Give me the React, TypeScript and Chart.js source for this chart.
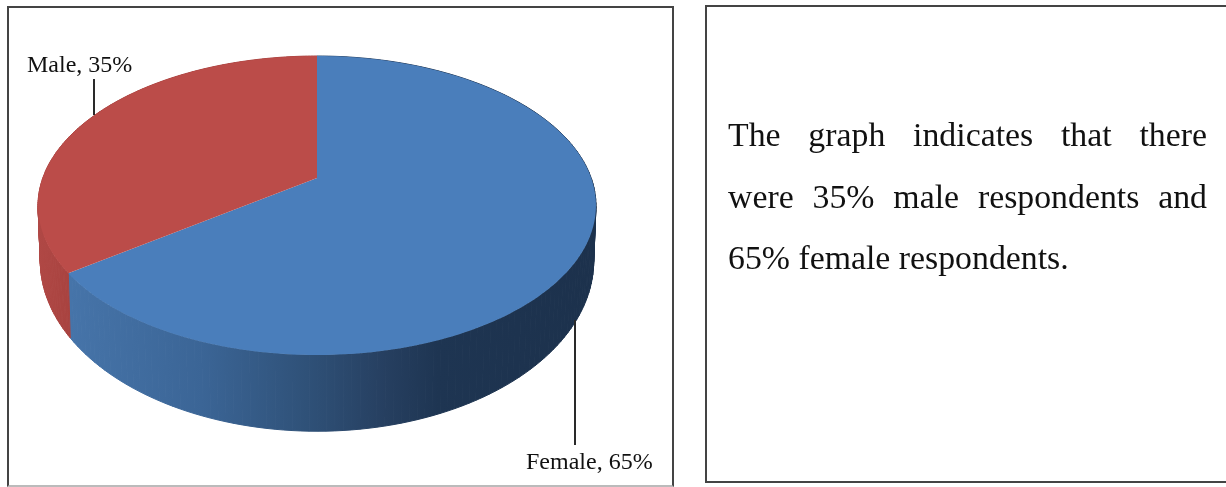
import React, { useEffect, useRef } from "react";
import { Chart, registerables } from "chart.js";

Chart.register(...registerables);

const categories = ["Female", "Male"];
const shares = [65, 35];
const faceColors = ["#4a7ebb", "#bb4c49"];
const sideStops = [
  [[0, "#4674a9"], [0.25, "#3b6596"], [0.45, "#2f5178"], [0.6, "#263f60"], [0.7, "#1e3552"], [1, "#1c314c"]],
  [[0, "#b04845"], [1, "#a8423f"]],
];
const labelText = ["Female, 65%", "Male, 35%"];
const labelPos = [[526, 469], [27, 72]];
const leaders = [[575, 320, 575, 445], [94, 79, 94, 115]];
const paragraphLines = ["The graph indicates that there", "were 35% male respondents and", "65% female respondents."];

const K = -0.184;
const TOP = { c: 274.2, a: 111.7, b: 178 };
const BOT = { c: 272, a: 122.5, b: 229.4 };
const CX = 317;

function project(p: { c: number; a: number; b: number }, angle: number) {
  const X = Math.cos(angle);
  const Y = Math.sin(angle);
  const w = 1 + K * Y;
  return [CX + (p.c * X) / w, (p.a * Y + p.b) / w];
}

const pie3d = {
  id: "pie3d",
  beforeDatasetsDraw(chart: any) {
    const ctx = chart.ctx;
    const arcs = chart.getDatasetMeta(0).data;
    ctx.save();
    arcs.forEach((arc: any, i: number) => {
      const grad = ctx.createLinearGradient(i === 0 ? 70 : 38, 0, i === 0 ? 596 : 72, 0);
      sideStops[i].forEach((s: any) => grad.addColorStop(s[0], s[1]));
      ctx.fillStyle = grad;
      ctx.strokeStyle = grad;
      ctx.lineWidth = 1;
      const n = 160;
      for (let j = 0; j < n; j++) {
        const a0 = arc.startAngle + ((arc.endAngle - arc.startAngle) * j) / n;
        const a1 = arc.startAngle + ((arc.endAngle - arc.startAngle) * (j + 1)) / n;
        const t0 = project(TOP, a0);
        const t1 = project(TOP, a1);
        const b0 = project(BOT, a0);
        const b1 = project(BOT, a1);
        ctx.beginPath();
        ctx.moveTo(t0[0], t0[1]);
        ctx.lineTo(t1[0], t1[1]);
        ctx.lineTo(b1[0], b1[1]);
        ctx.lineTo(b0[0], b0[1]);
        ctx.closePath();
        ctx.fill();
        ctx.stroke();
      }
    });
    arcs.forEach((arc: any) => {
      ctx.fillStyle = arc.options.backgroundColor;
      ctx.beginPath();
      ctx.moveTo(CX, TOP.b);
      const n = 240;
      for (let j = 0; j <= n; j++) {
        const a = arc.startAngle + ((arc.endAngle - arc.startAngle) * j) / n;
        const p = project(TOP, a);
        ctx.lineTo(p[0], p[1]);
      }
      ctx.closePath();
      ctx.fill();
    });
    ctx.strokeStyle = "#2a2a2a";
    ctx.lineWidth = 2;
    leaders.forEach((l) => {
      ctx.beginPath();
      ctx.moveTo(l[0], l[1]);
      ctx.lineTo(l[2], l[3]);
      ctx.stroke();
    });
    ctx.fillStyle = "#111";
    ctx.font = '24px "Liberation Serif"';
    ctx.textBaseline = "alphabetic";
    labelText.forEach((t, i) => ctx.fillText(t, labelPos[i][0], labelPos[i][1]));
    ctx.restore();
    return false;
  },
};

export default function App() {
  const ref = useRef<HTMLCanvasElement | null>(null);
  useEffect(() => {
    document.body.style.margin = "0";
    document.body.style.background = "#fff";
    const chart = new Chart(ref.current as HTMLCanvasElement, {
      type: "pie",
      data: {
        labels: categories,
        datasets: [{ data: shares, backgroundColor: faceColors, borderWidth: 0 }],
      },
      options: {
        animation: false,
        responsive: false,
        plugins: { legend: { display: false }, tooltip: { enabled: false } },
      },
      plugins: [pie3d],
    } as any);
    return () => chart.destroy();
  }, []);
  return (
    <div style={{ position: "relative", width: 1226, height: 487, overflow: "hidden", filter: "blur(0.5px)" }}>
      <canvas ref={ref} width={680} height={487} style={{ position: "absolute", left: 0, top: 0, width: 680, height: 487 }} />
      <div style={{ position: "absolute", left: 7, top: 6, width: 663, height: 477, border: "2px solid #444", borderBottomColor: "#bbb" }} />
      <div style={{ position: "absolute", left: 705, top: 5, width: 530, height: 474, border: "2px solid #444" }} />
      <div
        style={{
          position: "absolute",
          left: 728,
          top: 104,
          width: 479,
          fontFamily: '"Liberation Serif"',
          fontSize: 33.8,
          lineHeight: "61.5px",
          color: "#111",
        }}
      >
        {paragraphLines.map((line, i) => (
          <div key={i} style={{ textAlign: i < 2 ? "justify" : "left", textAlignLast: i < 2 ? "justify" : "left", whiteSpace: "normal" }}>
            {line}
          </div>
        ))}
      </div>
    </div>
  );
}
